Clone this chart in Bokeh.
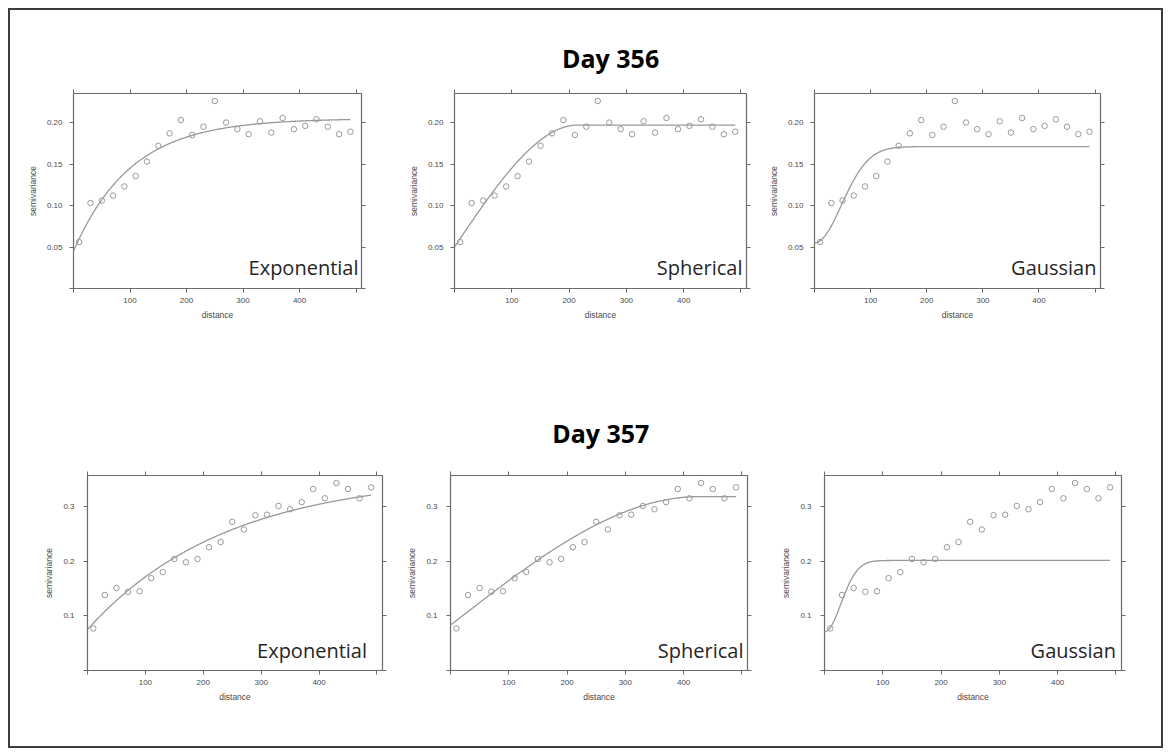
import numpy as np
from bokeh.plotting import figure
from bokeh.layouts import row, column
from bokeh.models import (Range1d, LinearAxis, FixedTicker, CustomJSTickFormatter,
                          Label, Title, Spacer, Div)
from bokeh.embed import file_html
from bokeh.resources import INLINE

# ---------------- data ----------------
days = ["Day 356", "Day 357"]
model_names = ["Exponential", "Spherical", "Gaussian"]

dist = [10, 30, 50, 70, 90, 110, 130, 150, 170, 190, 210, 230, 250,
        270, 290, 310, 330, 350, 370, 390, 410, 430, 450, 470, 490]

gamma_356 = [0.056, 0.103, 0.106, 0.112, 0.123, 0.1355, 0.153, 0.172, 0.187,
             0.203, 0.185, 0.195, 0.226, 0.200, 0.192, 0.186, 0.2015, 0.188,
             0.2055, 0.192, 0.196, 0.204, 0.195, 0.186, 0.189]

gamma_357 = [0.077, 0.138, 0.151, 0.144, 0.145, 0.169, 0.180, 0.204, 0.198,
             0.204, 0.2255, 0.235, 0.272, 0.258, 0.284, 0.285, 0.301, 0.295,
             0.308, 0.332, 0.315, 0.343, 0.332, 0.315, 0.335]

# fitted variogram models: nugget, total sill, range  (Exp, Sph, Gau)
nugget_356 = [0.045, 0.050, 0.055]
sill_356 = [0.205, 0.197, 0.171]
range_356 = [102, 215, 68]

nugget_357 = [0.075, 0.083, 0.071]
sill_357 = [0.3575, 0.318, 0.2013]
range_357 = [240, 425, 40]

x_ticks = [0, 100, 200, 300, 400, 500]
y_ticks_356 = [0, 0.05, 0.10, 0.15, 0.20]
y_ticks_357 = [0, 0.1, 0.2, 0.3]


def vgm(kind, h, n, s, a):
    h = np.asarray(h, dtype=float)
    c = s - n
    if kind == "Exponential":
        return n + c * (1 - np.exp(-h / a))
    if kind == "Spherical":
        r = np.minimum(h / a, 1.0)
        return n + c * (1.5 * r - 0.5 * r ** 3)
    return n + c * (1 - np.exp(-(h / a) ** 2))


# ---------------- styling ----------------
FRAME_H = 195
GREY = "#999999"
AX_COL = "#6a6a6a"
TXT = "#4a4a4a"
AX_FONT = "Liberation Sans"
BORDER_COL = "#3c3c3c"

# inner area (inside the 2px outer border) is 1151 x 736
rows_cfg = [
    dict(top=83, bottom=90, panels=[(63, 288, 31), (62, 292, 19), (44, 291, 61)],
         lab_off=[(-3, 21), (-4, 21), (-4, 21)], title_dx=107.5, title_standoff=29,
         ylab_standoff=7, ydec=2),
    dict(top=97, bottom=76, panels=[(77, 295, 18), (50, 297, 23), (54, 297, 40)],
         lab_off=[(-15.5, 20.5), (-4, 20.5), (-5.5, 20.5)], title_dx=101.7, title_standoff=44,
         ylab_standoff=9, ydec=1),
]

blank_fmt = "return '';"


def make_panel(r, j, gamma, nug, sill, rng, yticks):
    cfg = rows_cfg[r]
    l, fw, rt = cfg["panels"][j]
    xmax = 1.04 * max(dist)
    ymax = 1.04 * max(gamma)
    p = figure(width=l + fw + rt, height=cfg["top"] + FRAME_H + cfg["bottom"],
               min_border_left=l, min_border_right=rt,
               min_border_top=cfg["top"], min_border_bottom=cfg["bottom"],
               x_range=Range1d(0, xmax), y_range=Range1d(0, ymax),
               x_axis_location=None, y_axis_location=None,
               output_backend="svg", toolbar_location=None)
    p.grid.visible = False
    p.outline_line_color = AX_COL
    p.outline_line_width = 1.2
    p.background_fill_color = "white"
    p.border_fill_color = "white"

    def style(ax):
        ax.axis_line_color = None
        ax.major_tick_out = 4
        ax.major_tick_in = 0
        ax.minor_tick_line_color = None
        ax.major_tick_line_color = AX_COL
        ax.major_tick_line_width = 1
        ax.major_label_text_font = AX_FONT
        ax.major_label_text_font_size = "8px"
        ax.major_label_text_color = TXT
        ax.axis_label_text_font = AX_FONT
        ax.axis_label_text_font_size = "8.5px"
        ax.axis_label_text_font_style = "normal"
        ax.axis_label_text_color = TXT

    xfmt = CustomJSTickFormatter(code="return (tick > 0 && tick < 500) ? tick.toFixed(0) : '';")
    yfmt = CustomJSTickFormatter(code="return tick > 0 ? tick.toFixed(%d) : '';" % cfg["ydec"])

    bottom = LinearAxis(ticker=FixedTicker(ticks=x_ticks), formatter=xfmt, axis_label="distance")
    style(bottom)
    bottom.major_label_standoff = 5
    bottom.axis_label_standoff = 4
    p.add_layout(bottom, "below")

    left = LinearAxis(ticker=FixedTicker(ticks=yticks), formatter=yfmt, axis_label="semivariance")
    style(left)
    left.major_label_standoff = cfg["ylab_standoff"]
    left.axis_label_standoff = 6
    p.add_layout(left, "left")

    top = LinearAxis(ticker=FixedTicker(ticks=x_ticks), formatter=CustomJSTickFormatter(code=blank_fmt))
    style(top)
    top.major_label_standoff = 0
    p.add_layout(top, "above")

    right = LinearAxis(ticker=FixedTicker(ticks=yticks), formatter=CustomJSTickFormatter(code=blank_fmt))
    style(right)
    right.major_label_standoff = 0
    p.add_layout(right, "right")

    kind = model_names[j]
    h = np.linspace(0, max(dist), 400)
    p.line(h, vgm(kind, h, nug[j], sill[j], rng[j]), line_color=GREY, line_width=1.3)
    p.scatter(dist, gamma, marker="circle", size=5.5, fill_color=None,
              line_color=GREY, line_width=1)

    dx, dy = cfg["lab_off"][j]
    p.add_layout(Label(x=xmax, y=0, x_offset=dx, y_offset=dy, text=kind,
                       text_font="Open Sans", text_font_size="20px",
                       text_color="#262626", text_align="right",
                       text_baseline="alphabetic"))
    if j == 1:
        p.add_layout(Title(text=days[r], align="left", offset=cfg["title_dx"],
                           standoff=cfg["title_standoff"],
                           text_font="Open Sans", text_font_style="bold",
                           text_font_size="25px", text_color="black"), "above")
    return p


row1 = row([make_panel(0, j, gamma_356, nugget_356, sill_356, range_356, y_ticks_356)
            for j in range(3)])
row2 = row([make_panel(1, j, gamma_357, nugget_357, sill_357, range_357, y_ticks_357)
            for j in range(3)])
inner = column(row1, row2)


def bar(w, h):
    return Div(text="", width=w, height=h,
               styles={"background-color": BORDER_COL, "padding": "0", "margin": "0"})


framed = column(bar(1155, 2), row(bar(2, 736), inner, bar(2, 736)), bar(1155, 2))
layout = column(Spacer(width=1163, height=8), row(Spacer(width=8, height=740), framed))

open("out.html", "w").write(file_html(layout, INLINE))
